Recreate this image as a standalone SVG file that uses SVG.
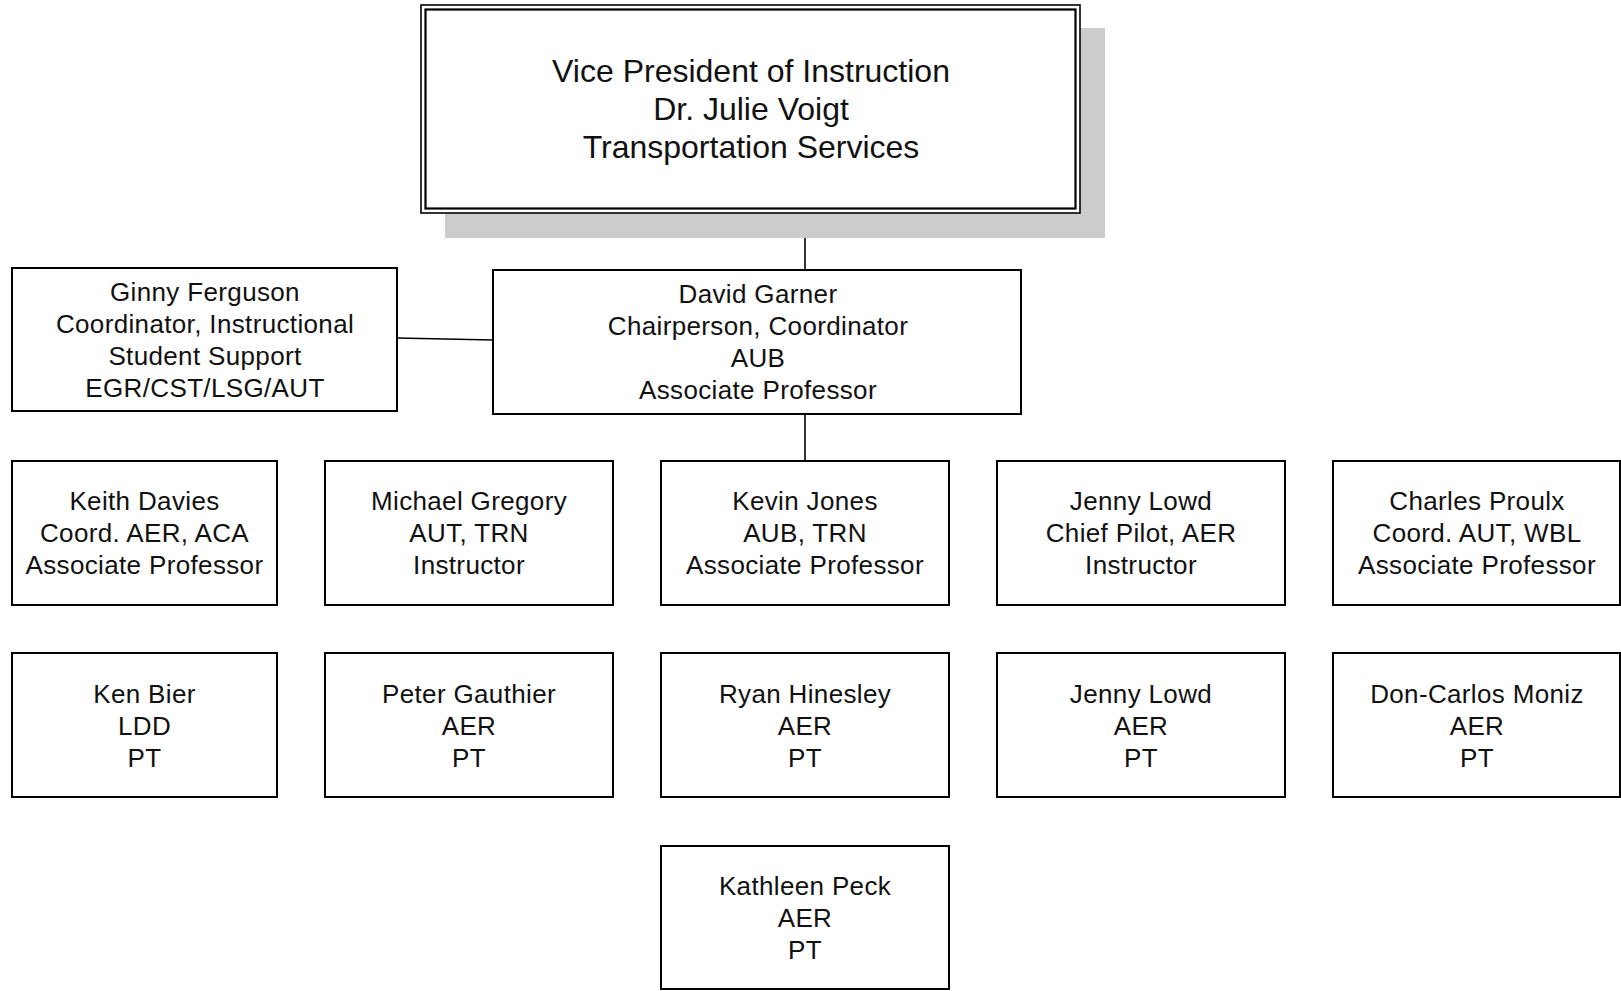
<svg xmlns="http://www.w3.org/2000/svg" width="1621" height="991" viewBox="0 0 1621 991">
<style>
.box{fill:#fff;stroke:#000;stroke-width:2}
.t{font-family:"Liberation Sans",Arial,sans-serif;font-size:26px;letter-spacing:0.35px;fill:#111;text-anchor:middle}
.tb{font-family:"Liberation Sans",Arial,sans-serif;font-size:32px;fill:#111;text-anchor:middle}
.c{stroke:#000;stroke-width:1.6;fill:none}
</style>
<rect x="0" y="0" width="1621" height="991" fill="#fff"/>
<g id="connectors">
<line class="c" x1="805" y1="213" x2="805" y2="270"/>
<line class="c" x1="397" y1="338" x2="493" y2="340"/>
<line class="c" x1="805" y1="414" x2="805" y2="461"/>
</g>
<g id="vp">
<rect x="445" y="28" width="660" height="210" fill="#cccccc"/>
<rect x="421" y="5" width="659" height="208" fill="#fff" stroke="#000" stroke-width="1.6"/>
<rect x="425.5" y="9.5" width="650" height="199" fill="none" stroke="#000" stroke-width="2.2"/>
<text class="tb" x="751" y="82">Vice President of Instruction</text>
<text class="tb" x="751" y="120">Dr. Julie Voigt</text>
<text class="tb" x="751" y="158">Transportation Services</text>
</g>
<g id="ginny">
<rect class="box" x="12" y="268" width="385" height="143"/>
<text class="t" x="205" y="301">Ginny Ferguson</text>
<text class="t" x="205" y="333">Coordinator, Instructional</text>
<text class="t" x="205" y="365">Student Support</text>
<text class="t" x="205" y="397">EGR/CST/LSG/AUT</text>
</g>
<g id="david">
<rect class="box" x="493" y="270" width="528" height="144"/>
<text class="t" x="758" y="303">David Garner</text>
<text class="t" x="758" y="335">Chairperson, Coordinator</text>
<text class="t" x="758" y="367">AUB</text>
<text class="t" x="758" y="399">Associate Professor</text>
</g>
<g id="keith">
<rect class="box" x="12" y="461" width="265" height="144"/>
<text class="t" x="144.5" y="510">Keith Davies</text>
<text class="t" x="144.5" y="542">Coord. AER, ACA</text>
<text class="t" x="144.5" y="574">Associate Professor</text>
</g>
<g id="michael">
<rect class="box" x="325" y="461" width="288" height="144"/>
<text class="t" x="469" y="510">Michael Gregory</text>
<text class="t" x="469" y="542">AUT, TRN</text>
<text class="t" x="469" y="574">Instructor</text>
</g>
<g id="kevin">
<rect class="box" x="661" y="461" width="288" height="144"/>
<text class="t" x="805" y="510">Kevin Jones</text>
<text class="t" x="805" y="542">AUB, TRN</text>
<text class="t" x="805" y="574">Associate Professor</text>
</g>
<g id="jenny1">
<rect class="box" x="997" y="461" width="288" height="144"/>
<text class="t" x="1141" y="510">Jenny Lowd</text>
<text class="t" x="1141" y="542">Chief Pilot, AER</text>
<text class="t" x="1141" y="574">Instructor</text>
</g>
<g id="charles">
<rect class="box" x="1333" y="461" width="287" height="144"/>
<text class="t" x="1477" y="510">Charles Proulx</text>
<text class="t" x="1477" y="542">Coord. AUT, WBL</text>
<text class="t" x="1477" y="574">Associate Professor</text>
</g>
<g id="ken">
<rect class="box" x="12" y="653" width="265" height="144"/>
<text class="t" x="144.5" y="703">Ken Bier</text>
<text class="t" x="144.5" y="735">LDD</text>
<text class="t" x="144.5" y="767">PT</text>
</g>
<g id="peter">
<rect class="box" x="325" y="653" width="288" height="144"/>
<text class="t" x="469" y="703">Peter Gauthier</text>
<text class="t" x="469" y="735">AER</text>
<text class="t" x="469" y="767">PT</text>
</g>
<g id="ryan">
<rect class="box" x="661" y="653" width="288" height="144"/>
<text class="t" x="805" y="703">Ryan Hinesley</text>
<text class="t" x="805" y="735">AER</text>
<text class="t" x="805" y="767">PT</text>
</g>
<g id="jenny2">
<rect class="box" x="997" y="653" width="288" height="144"/>
<text class="t" x="1141" y="703">Jenny Lowd</text>
<text class="t" x="1141" y="735">AER</text>
<text class="t" x="1141" y="767">PT</text>
</g>
<g id="doncarlos">
<rect class="box" x="1333" y="653" width="287" height="144"/>
<text class="t" x="1477" y="703">Don-Carlos Moniz</text>
<text class="t" x="1477" y="735">AER</text>
<text class="t" x="1477" y="767">PT</text>
</g>
<g id="kathleen">
<rect class="box" x="661" y="846" width="288" height="143"/>
<text class="t" x="805" y="895">Kathleen Peck</text>
<text class="t" x="805" y="927">AER</text>
<text class="t" x="805" y="959">PT</text>
</g>
</svg>
